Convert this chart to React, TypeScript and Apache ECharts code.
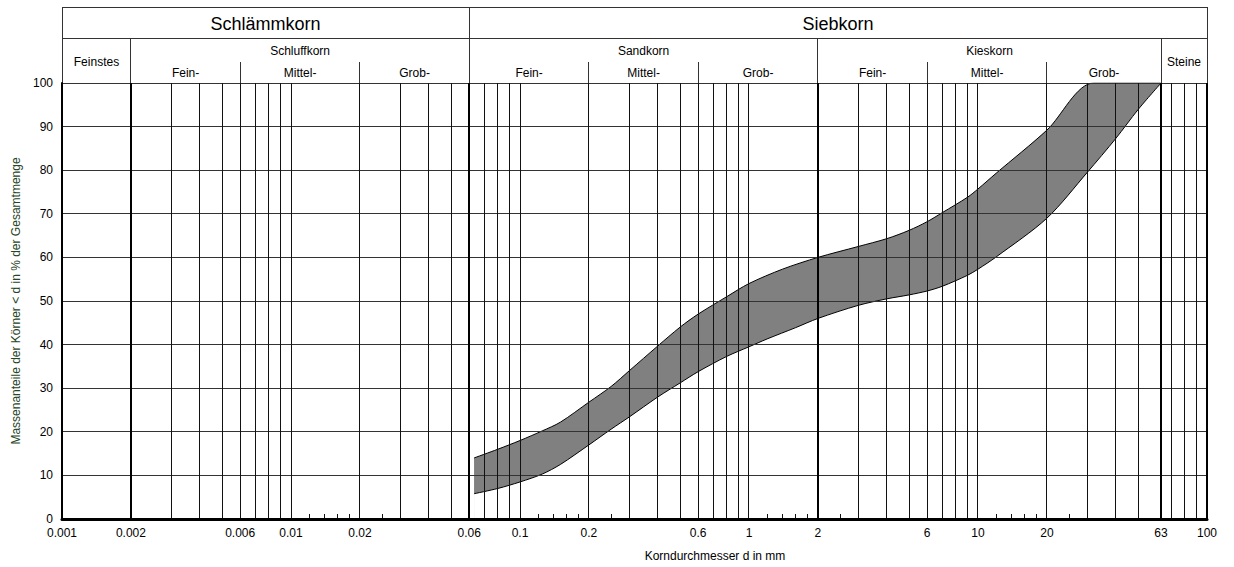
import React, { useEffect, useRef } from "react";
import * as echarts from "echarts";

// Grading band: upper and lower boundary curves (grain size d in mm, passing %)
const upperD = [0.063, 0.08, 0.1, 0.125, 0.15, 0.2, 0.25, 0.3, 0.4, 0.5, 0.6, 0.8, 1, 1.4, 2, 3, 4, 5, 6, 7, 9, 10, 12, 20, 32, 63];
const upperP = [14, 16.0, 18, 20.2, 22.2, 26.8, 30.4, 34.0, 39.7, 44.0, 47.0, 51.0, 54.0, 57.3, 60, 62.5, 64.3, 66.2, 68.2, 70.3, 73.8, 75.7, 79.3, 89.2, 100, 100];
const lowerD = [0.063, 0.08, 0.1, 0.125, 0.15, 0.2, 0.25, 0.3, 0.4, 0.5, 0.6, 0.8, 1, 1.2, 1.6, 2, 3, 4, 5, 6, 7, 9, 10, 12, 20, 30, 40, 50, 63];
const lowerP = [5.8, 7.0, 8.5, 10.3, 12.5, 17.0, 20.6, 23.4, 28.0, 31.2, 33.8, 37.3, 39.5, 41.3, 43.9, 46, 49, 50.5, 51.4, 52.3, 53.4, 55.9, 57.3, 60.1, 69, 79.5, 87.3, 93.9, 100];

// Axis ticks
const yTicks = [0, 10, 20, 30, 40, 50, 60, 70, 80, 90, 100];
const thickLines = [0.002, 0.06, 2, 63, 100];
const thinLines = [
  0.003, 0.004, 0.005, 0.006, 0.007, 0.008, 0.009, 0.01,
  0.02, 0.03, 0.04, 0.05, 0.07, 0.08, 0.09, 0.1,
  0.2, 0.3, 0.4, 0.5, 0.6, 0.7, 0.8, 0.9, 1,
  3, 4, 5, 6, 7, 8, 9, 10,
  20, 30, 40, 50, 70, 80, 90,
];
const shortTicks = [0.012, 0.014, 0.016, 0.018, 0.025, 0.12, 0.14, 0.16, 0.18, 0.25, 1.2, 1.4, 1.6, 1.8, 2.5, 12, 14, 16, 18, 25];
const xTickValues = [0.001, 0.002, 0.006, 0.01, 0.02, 0.06, 0.1, 0.2, 0.6, 1, 2, 6, 10, 20, 63, 100];
const xTickLabels = ["0.001", "0.002", "0.006", "0.01", "0.02", "0.06", "0.1", "0.2", "0.6", "1", "2", "6", "10", "20", "63", "100"];

// Header classification
const mainGroups = [
  { name: "Schlämmkorn", from: 0.001, to: 0.06 },
  { name: "Siebkorn", from: 0.06, to: 100 },
];
const subGroups = [
  { name: "Feinstes", from: 0.001, to: 0.002, single: true },
  { name: "Schluffkorn", from: 0.002, to: 0.06, single: false },
  { name: "Sandkorn", from: 0.06, to: 2, single: false },
  { name: "Kieskorn", from: 2, to: 63, single: false },
  { name: "Steine", from: 63, to: 100, single: true },
];
const fractions = [
  { name: "Fein-", from: 0.002, to: 0.006 },
  { name: "Mittel-", from: 0.006, to: 0.02 },
  { name: "Grob-", from: 0.02, to: 0.06 },
  { name: "Fein-", from: 0.06, to: 0.2 },
  { name: "Mittel-", from: 0.2, to: 0.6 },
  { name: "Grob-", from: 0.6, to: 2 },
  { name: "Fein-", from: 2, to: 6 },
  { name: "Mittel-", from: 6, to: 20 },
  { name: "Grob-", from: 20, to: 63 },
];

const FONT = '"Liberation Sans", Arial, Helvetica, sans-serif';

function crisp(v: number, w: number) {
  return w % 2 === 1 ? Math.round(v - 0.5) + 0.5 : Math.round(v);
}

export default function App() {
  const ref = useRef<HTMLDivElement>(null);

  useEffect(() => {
    if (!ref.current) return;
    const chart = echarts.init(ref.current, undefined, { renderer: "svg" });

    const renderGrid = (_params: any, api: any) => {
      const X = (d: number) => api.coord([d, 0])[0];
      const yb = api.coord([1, 0])[1];
      const yt = api.coord([1, 100])[1];
      const xl = X(0.001);
      const xr = X(100);
      const headerTop = 7;
      const row2 = 38;
      const row3 = 62;
      const children: any[] = [];
      const vline = (x: number, y1: number, y2: number, w: number, c: string) => {
        const cx = crisp(x, w);
        children.push({ type: "line", shape: { x1: cx, y1, x2: cx, y2 }, style: { stroke: c, lineWidth: w } });
      };
      const hline = (y: number, x1: number, x2: number, w: number, c: string) => {
        const cy = crisp(y, w);
        children.push({ type: "line", shape: { x1, y1: cy, x2, y2: cy }, style: { stroke: c, lineWidth: w } });
      };
      const text = (s: string, x: number, y: number, size: number, va = "middle") => {
        children.push({
          type: "text",
          style: { text: s, x, y, align: "center", verticalAlign: va, fontSize: size, fontFamily: FONT, fill: "#000" },
        });
      };

      // horizontal grid
      yTicks.forEach((p) => {
        if (p === 0) return;
        hline(api.coord([1, p])[1], xl, xr, 1, "#333");
      });
      // vertical grid
      thinLines.forEach((d) => vline(X(d), yt, yb, 1, "#111"));
      thickLines.forEach((d) => vline(X(d), yt, yb, 2, "#000"));
      shortTicks.forEach((d) => vline(X(d), yb - 5, yb, 1, "#111"));

      // x tick labels
      xTickValues.forEach((d, i) => text(xTickLabels[i], X(d), yb + 8, 12, "top"));

      // header frame
      hline(headerTop, xl, xr, 1, "#333");
      hline(row2, xl, xr, 1, "#333");
      vline(xl, headerTop, yt, 1, "#333");
      vline(xr, headerTop, yt, 1, "#333");
      mainGroups.forEach((g, i) => {
        if (i > 0) vline(X(g.from), headerTop, yt, 1, "#333");
        text(g.name, (X(g.from) + X(g.to)) / 2, 24, 18);
      });
      const subBounds = new Set<number>();
      subGroups.forEach((g) => {
        subBounds.add(g.from);
        subBounds.add(g.to);
        if (g.from !== 0.001 && !mainGroups.some((m) => m.from === g.from)) vline(X(g.from), row2, yt, 1, "#333");
        text(g.name, (X(g.from) + X(g.to)) / 2, g.single ? 62 : 51, 12);
      });
      fractions.forEach((f) => {
        if (!subBounds.has(f.from)) vline(X(f.from), row3, yt, 1, "#333");
        text(f.name, (X(f.from) + X(f.to)) / 2, 73, 12);
      });

      return { type: "group", children };
    };

    chart.setOption({
      animation: false,
      backgroundColor: "#fff",
      grid: { left: 62, right: 27, top: 83, bottom: 47.5, containLabel: false },
      xAxis: {
        type: "log",
        logBase: 10,
        min: 0.001,
        max: 100,
        z: 6,
        name: "Korndurchmesser d in mm",
        nameLocation: "middle",
        nameGap: 31,
        nameTextStyle: { fontSize: 12, fontFamily: FONT, color: "#000", padding: [0, 0, 0, 161] },
        axisLine: { show: true, lineStyle: { color: "#000", width: 3 } },
        axisTick: { show: false },
        axisLabel: { show: false },
        splitLine: { show: false },
      },
      yAxis: {
        type: "value",
        min: 0,
        max: 100,
        interval: 10,
        z: 6,
        name: "Massenanteile der Körner < d in % der Gesamtmenge",
        nameLocation: "middle",
        nameGap: 38,
        nameTextStyle: { fontSize: 12, fontFamily: FONT, color: "#264426" },
        axisLine: { show: true, lineStyle: { color: "#000", width: 2 } },
        axisTick: { show: false },
        axisLabel: { fontSize: 12, fontFamily: FONT, color: "#000", margin: 9, padding: [0, 0, 8, 0] },
        splitLine: { show: false },
      },
      series: [
        {
          // grey fill below the upper boundary
          type: "line",
          name: "upper",
          data: upperD.map((d, i) => [d, upperP[i]]),
          smooth: 0.3,
          showSymbol: false,
          symbol: "none",
          silent: true,
          z: 1,
          lineStyle: { color: "#000", width: 1 },
          areaStyle: { color: "#808080", opacity: 1, origin: "start" },
        },
        {
          // white below the lower boundary, leaving the grey band
          type: "line",
          name: "lower",
          data: lowerD.map((d, i) => [d, lowerP[i]]),
          smooth: 0.3,
          showSymbol: false,
          symbol: "none",
          silent: true,
          z: 2,
          lineStyle: { color: "#000", width: 1 },
          areaStyle: { color: "#ffffff", opacity: 1, origin: "start" },
        },
        {
          type: "custom",
          name: "grid",
          coordinateSystem: "cartesian2d",
          clip: false,
          silent: true,
          z: 3,
          data: [[1, 50]],
          renderItem: renderGrid,
        },
      ],
    });

    return () => chart.dispose();
  }, []);

  return (
    <div
      ref={ref}
      style={{ position: "fixed", left: 0, top: 0, width: 1234, height: 567, background: "#fff" }}
    />
  );
}
